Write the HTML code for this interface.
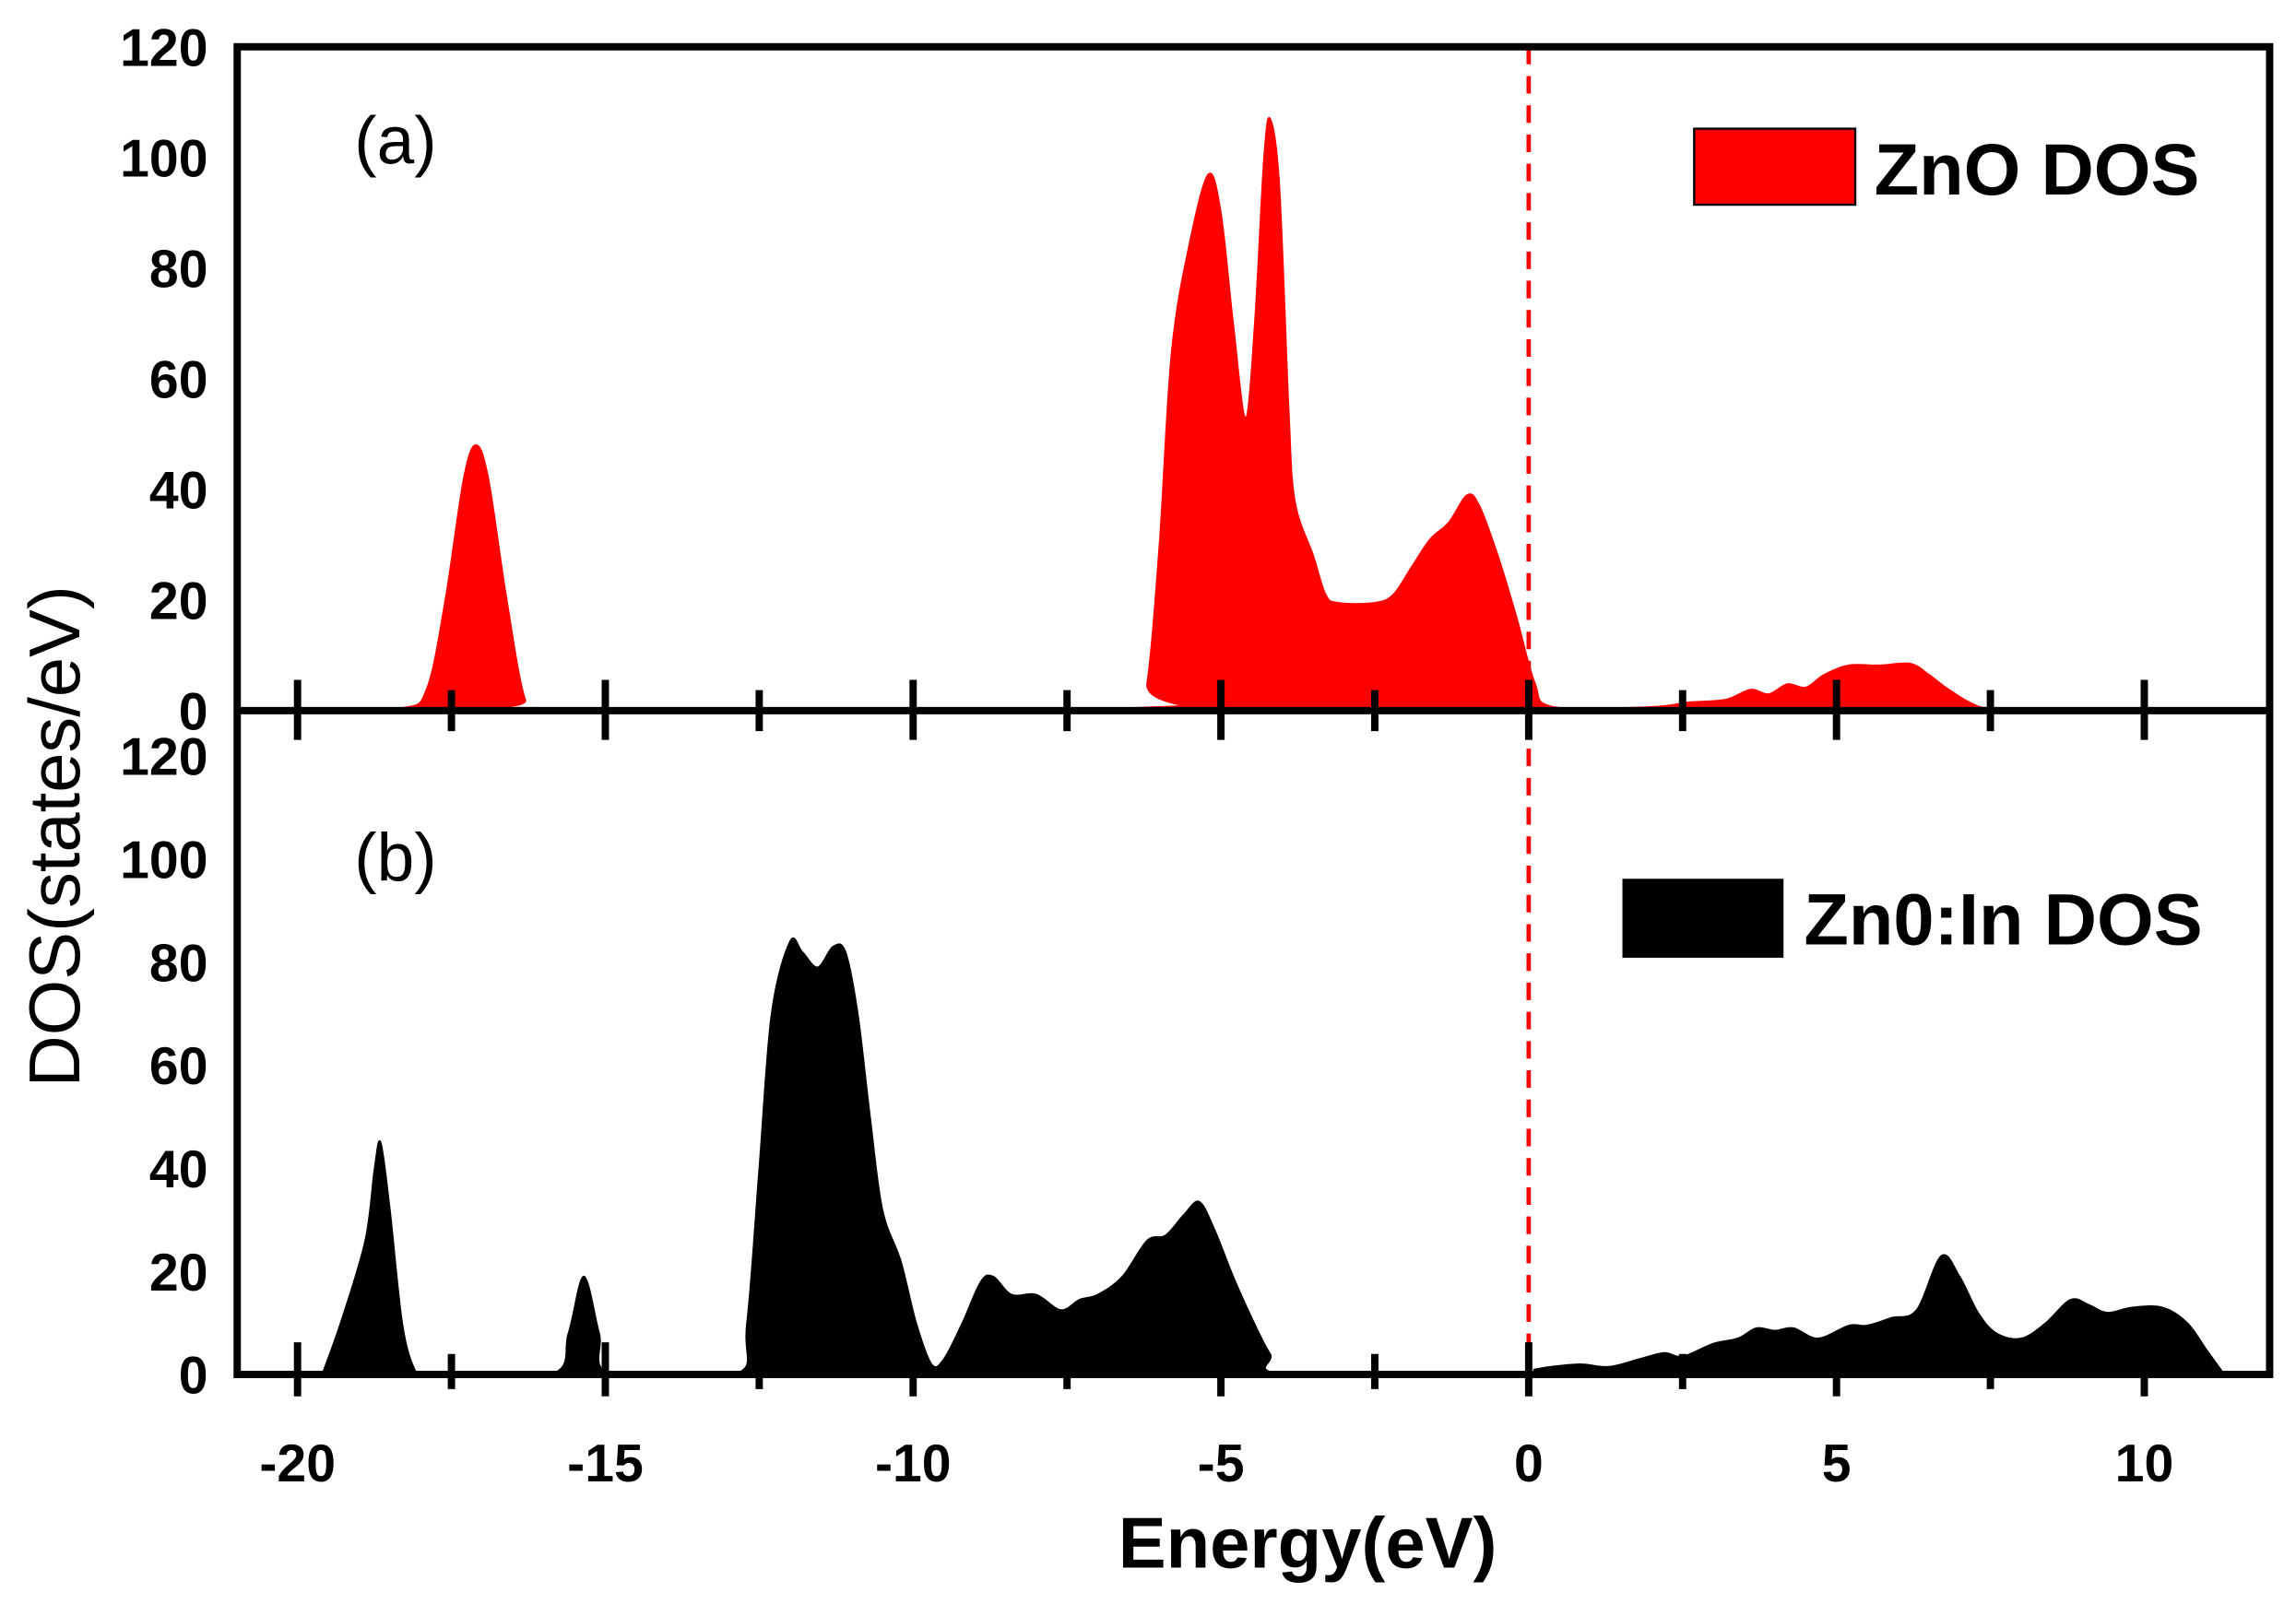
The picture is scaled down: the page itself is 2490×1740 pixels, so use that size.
<!DOCTYPE html>
<html><head><meta charset="utf-8"><style>
html,body{margin:0;padding:0;background:#fff;}
svg{display:block;}
text{font-family:"Liberation Sans",Arial,sans-serif;}
</style></head><body>
<svg id="s" width="2490" height="1740" viewBox="0 0 1568 1097" preserveAspectRatio="none" xmlns="http://www.w3.org/2000/svg">
<rect width="1568" height="1097" fill="#fff"/>
<path id="top" fill="#ff0000" stroke="#ff0000" stroke-width="1"/>
<path id="bot" fill="#000" stroke="#000" stroke-width="1"/>
<line x1="1044" y1="32" x2="1044" y2="940" stroke="#ff0000" stroke-width="3" stroke-dasharray="12,8"/>
<rect x="162" y="32" width="1388" height="908" fill="none" stroke="#000" stroke-width="5"/>
<line x1="162" y1="486" x2="1550" y2="486" stroke="#000" stroke-width="5"/>
<g id="ticks" stroke="#000" stroke-width="5"></g>
<g font-weight="bold" font-size="36" text-anchor="end" id="ylab"></g>
<g font-weight="bold" font-size="36" text-anchor="middle" id="xlab"></g>
<text x="893" y="1072" font-size="49" font-weight="bold" text-anchor="middle">Energy(eV)</text>
<text transform="translate(54,572) rotate(-90)" font-size="49" text-anchor="middle">DOS(states/eV)</text>
<text x="242" y="112" font-size="46">(a)</text>
<text x="242" y="602" font-size="46">(b)</text>
<rect x="1157" y="88" width="110" height="52" fill="#ff0000" stroke="#000" stroke-width="1.5"/>
<text x="1280" y="133" font-size="50" font-weight="bold">ZnO DOS</text>
<rect x="1108" y="601" width="110" height="54" fill="#000"/>
<text x="1232" y="646" font-size="50" font-weight="bold">Zn0:In DOS</text>
</svg>
<script>
var X=function(e){return 1044+e*42.04;};
var T=[[-19.7,0.5],[-18.3,0.5],[-17.9,4],[-17.6,20],[-17.3,42],[-17.1,48],[-16.9,42],[-16.6,20],[-16.3,2],[-16.0,0.5],[-6.4,0.5],[-6.2,5],[-6.0,30],[-5.8,65],[-5.5,85],[-5.2,97],[-5.0,90],[-4.8,70],[-4.6,53],[-4.45,70],[-4.3,100],[-4.2,107],[-4.05,95],[-3.9,55],[-3.8,38],[-3.5,28],[-3.3,21],[-3.1,19.5],[-2.5,19.5],[-2.2,21],[-1.9,26],[-1.6,31],[-1.3,34],[-1.0,39],[-0.8,37],[-0.5,28],[-0.2,17],[0.1,5],[0.4,0.7],[2.0,0.7],[2.6,1.5],[3.2,2],[3.6,3.8],[3.9,3],[4.2,4.8],[4.5,4.2],[4.8,6.5],[5.2,8.2],[5.7,8.2],[6.2,8.5],[6.5,6.5],[6.8,4],[7.2,1.3],[7.6,0.4],[9.2,0.4]];
var B=[[-19.6,0],[-19.3,10],[-18.9,26],[-18.75,40],[-18.65,45],[-18.5,32],[-18.3,10],[-18.1,1],[-17.9,0],[-15.9,0],[-15.6,8],[-15.35,19],[-15.1,8],[-14.9,0],[-12.9,0],[-12.7,10],[-12.5,40],[-12.3,70],[-12.0,84],[-11.8,82],[-11.55,79],[-11.3,83],[-11.1,82],[-10.9,70],[-10.7,50],[-10.5,32],[-10.2,22],[-9.95,10],[-9.7,2],[-9.5,3],[-9.2,10],[-8.9,18],[-8.7,19],[-8.4,15.5],[-8.0,15.5],[-7.6,12.5],[-7.3,14.5],[-7.0,15.5],[-6.6,19],[-6.2,26],[-5.9,27],[-5.6,31],[-5.35,33.5],[-5.1,28],[-4.8,19],[-4.5,11],[-4.2,4],[-3.9,0],[0.0,0],[0.1,1],[0.8,2],[1.3,1.5],[1.8,3],[2.2,4.2],[2.5,3.5],[3.0,6],[3.4,7],[3.7,9],[4.0,8.5],[4.3,9],[4.7,7],[5.2,9.5],[5.5,9.5],[5.9,11],[6.3,12.5],[6.7,23],[7.0,19],[7.3,12],[7.6,8],[8.0,7],[8.4,10],[8.8,14.5],[9.1,13.5],[9.4,12],[9.8,13],[10.3,13],[10.7,10],[11.0,5],[11.3,0]];
function path(a,y0,s){
 var P=a.map(function(p){return [X(p[0]),y0-p[1]*s];});
 var d="M"+P[0][0].toFixed(1)+","+y0+" L"+P[0][0].toFixed(1)+","+P[0][1].toFixed(1);
 for(var i=0;i<P.length-1;i++){
  var p0=P[Math.max(0,i-1)],p1=P[i],p2=P[i+1],p3=P[Math.min(P.length-1,i+2)];
  var c1x=p1[0]+(p2[0]-p0[0])/6,c1y=p1[1]+(p2[1]-p0[1])/6;
  var c2x=p2[0]-(p3[0]-p1[0])/6,c2y=p2[1]-(p3[1]-p1[1])/6;
  c1y=Math.min(c1y,y0);c2y=Math.min(c2y,y0);
  d+=" C"+c1x.toFixed(1)+","+c1y.toFixed(1)+" "+c2x.toFixed(1)+","+c2y.toFixed(1)+" "+p2[0].toFixed(1)+","+p2[1].toFixed(1);
 }
 d+=" L"+P[P.length-1][0].toFixed(1)+","+y0+"Z";return d;}
document.getElementById("top").setAttribute("d",path(T,486,3.783));
document.getElementById("bot").setAttribute("d",path(B,940,3.525));
var g=document.getElementById("ticks"),h="";
for(var e=-20;e<=10;e+=2.5){var x=X(e),maj=(e%5===0);
h+='<line x1="'+x+'" y1="'+(maj?465:472)+'" x2="'+x+'" y2="'+(maj?506:500)+'"/>';
h+='<line x1="'+x+'" y1="'+(maj?918:926)+'" x2="'+x+'" y2="'+(maj?955:950)+'"/>';}
g.innerHTML=h;
var yl="";for(var v=0;v<=120;v+=20){yl+='<text x="142" y="'+(486-v*3.783+13)+'">'+v+'</text>';if(v>0)yl+='<text x="142" y="'+(940-v*3.525+13)+'">'+v+'</text>';}
yl+='<text x="142" y="'+(940+13)+'">0</text>';
document.getElementById("ylab").innerHTML=yl;
var xl="";for(var e=-20;e<=10;e+=5){xl+='<text x="'+X(e)+'" y="1013">'+e+'</text>';}
document.getElementById("xlab").innerHTML=xl;
</script>
</body></html>
